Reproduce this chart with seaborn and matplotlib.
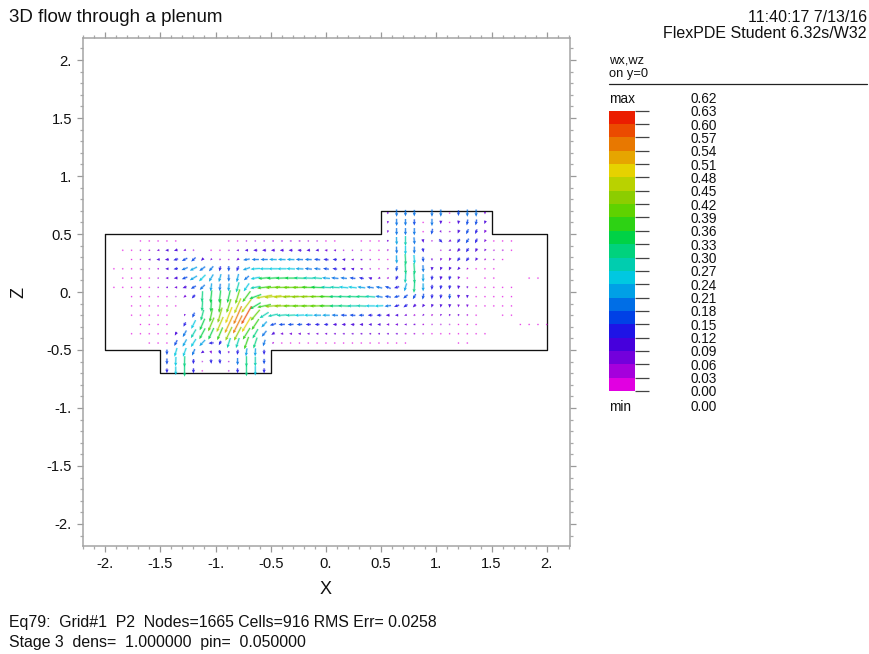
import numpy as np
import pandas as pd
import matplotlib
matplotlib.use("Agg")
import matplotlib.pyplot as plt
from matplotlib.colors import ListedColormap, BoundaryNorm
from matplotlib.ticker import MultipleLocator
import seaborn as sns

# ---- data: flow vectors (hundredths of wx / wz) ----
col_step = 0.08
col_origin = -1.92
row_z = [0.68, 0.60, 0.52, 0.44, 0.36, 0.28, 0.20, 0.12, 0.04, -0.04, -0.12, -0.20,
         -0.28, -0.36, -0.44, -0.52, -0.60, -0.68]
row_first_col = [31, 31, 31, 3, 1, 2, 0, 1, 0, 2, 2, 2, 3, 2, 4, 6, 6, 6]

wx_rows = [
    [0, 0, 0, 0, 0, 0, 0, 1, 0, 0, 0, 0],
    [-1, 0, 0, 0, 0, 0, 0, 0, -2, -3, -3, -3],
    [-1, 0, 0, 0, 0, -3, 3, -4, -4, -6, -5, -4],
    [-1, -1, -1, -2, -1, 0, 0, 0, 0, 0, -1, -2, -3, -3, -4, -5, -5, -5, -5, -4, -3, -2, -2, 0, 0, -2, -1, -1,
     0, 1, 0, 2, 2, 0, 9, -7, -7, -8, -6, -4, -2, -1, 1],
    [-1, -2, -3, -5, -7, -9, -10, -7, -3, 0, -1, -2, -4, -7, -9, -11, -11, -11, -11, -11, -11, -10, -9, -8, -7, -3, -3, -3,
     -2, -2, -1, 1, 0, 0, 2, 0, -3, -6, -7, -7, -5, -4, -4, -4, -1],
    [-2, -3, -7, -9, -11, -13, -15, -12, -7, -4, -3, 0, -7, -18, -20, -20, -21, -21, -21, -20, -19, -17, -14, -12, -9, -7, -6,
     -4, -2, -1, 1, 2, 2, 1, 1, -3, -4, -7, -8, -5, -4, -3, -1],
    [-1, -1, -1, -2, -3, -5, -9, -12, -17, -20, -16, -12, -3, 0, -5, -20, -26, -26, -26, -26, -24, -22, -20, -18, -16, -13,
     -11, -9, -7, -4, -2, -3, -3, 2, 2, 1, -1, -3, -4, -6, -4, -1, -1, 0, 0],
    [-1, -1, -1, -2, -4, -8, -11, -15, -20, -18, -12, -6, 0, -5, -14, -26, -33, -34, -34, -33, -31, -29, -27, -22, -20, -18,
     -16, -13, -10, -7, -5, -5, -2, 2, 0, -1, -2, -3, -3, 0, 0, -1, 0, 0, 0, 0, -1, -1],
    [-1, -1, -2, -2, -2, -4, -6, -8, -11, -14, -14, -3, -2, -2, -8, -15, -28, -38, -40, -41, -41, -40, -38, -35, -28, -27,
     -26, -24, -22, -20, -18, -16, -14, -6, -2, 0, -1, -2, -2, -2, -1, 0, -1, -1, -1, 0],
    [-1, -1, -1, -1, -2, -3, -7, -9, -2, -4, -4, -8, -12, -22, -33, -45, -47, -45, -44, -44, -42, -40, -38, -32, -32, -30,
     -30, -28, -20, -17, -15, -12, -8, -3, -1, -2, -1, -1, -1, 0, -1, 0, -1, 0],
    [-1, -1, -1, -1, -1, -2, 0, 0, -2, -2, -5, -12, -18, -28, -30, -38, -44, -42, -41, -40, -40, -40, -38, -30, -30, -28,
     -27, -26, -24, -18, -14, -11, -8, -5, -3, -2, -1, -1, -1, 0, -1, 0, 0, -1],
    [-1, -1, -1, -1, -1, 0, -2, -6, -8, -8, -12, -18, -22, -28, -25, -25, -28, -28, -27, -26, -24, -22, -21, -18, -17, -16,
     -15, -13, -13, -11, -9, -7, -5, -4, -3, -2, -1, -1, -1, 0, 0, 0, 0, 0],
    [-1, -1, -1, -1, 0, -6, -12, -14, -16, -18, -22, -25, -25, -20, -15, -17, -17, -16, -15, -14, -13, -12, -11, -11, -11, -10,
     -9, -9, -8, -8, -7, -6, -5, -3, -2, -1, -1, -1, 0, 0, 0, 0, 0, -1, -1, -1, -1],
    [-1, -1, -1, -1, -1, -5, -10, -14, -16, -15, -15, -18, -20, -20, -15, -13, -9, -8, -8, -8, -7, -7, -7, -6, -6, -6,
     -6, -6, -6, -6, -6, -5, -5, -3, -2, -1, -1, -1, -1, 0, -1],
    [-1, -1, -1, -8, -11, -14, -16, -14, -6, -9, -9, -12, -10, -6, -4, -1, -1, -1, -1, -1, -1, -1, -1, -1, -1, -1, -1, -1, -1,
     -1, 0, 0, 0, 0, 0, -1, -1],
    [0, -7, -9, -8, -8, 3, 4, 1, -2, -3, -1, 0],
    [0, -1, -1, -1, -1, 1, 1, 0, 0, 0, 0, 0],
    [0, 0, 0, 0, 0, 0, 0, 0, 0, 0, 0, 0],
]

wz_rows = [
    [-6, -20, -18, -18, 0, -20, -20, 1, -16, -20, -20, -7],
    [-7, -20, -19, -17, -2, -20, -10, -1, -10, -16, -16, -9],
    [-7, -20, -20, -20, -2, -16, -6, -2, -10, -14, -13, -8],
    [0, 0, 0, 0, 0, 0, 0, 0, 0, 0, 0, 0, 0, 0, 0, 0, 0, 0, 0, 0, 0, 0, 0, 0, 0, 0, 0, 0,
     -6, -22, -27, -20, -10, -4, -9, -4, -11, -13, -13, -7, 0, 0, 0],
    [0, -1, 0, 0, -1, 0, -3, -3, -3, 0, 0, 0, 0, 0, 0, 0, 0, 0, 0, 0, 1, -1, -1, 1, 1, 0, 0, -1,
     0, 0, -5, -20, -25, -20, -12, 0, 0, -3, -9, -11, -10, -6, -1, -2, -1],
    [0, 0, 1, -1, -1, -4, -8, -11, -7, -5, -4, -3, -5, -3, 0, 0, 1, 1, 1, 1, 1, 2, 2, 1, 1, 1, 1,
     1, 0, -2, -23, -30, -25, -15, -6, -7, -8, -10, -10, -8, -4, 0, 0],
    [0, 0, 0, 0, 1, 0, 0, -2, -7, -10, -12, -14, -14, -15, -14, -7, -2, 0, 0, 0, 1, 1, 2, 2, 2, 2,
     2, 2, 2, 1, -1, -3, -15, -30, -32, -20, -10, -9, -9, -7, -4, 0, 0, -1, 0],
    [0, 0, 0, 0, 0, 0, -1, -6, -12, -18, -20, -22, -20, -23, -12, -5, -3, -2, -1, 0, 1, 1, 2, 2, 2, 2,
     2, 3, 3, -2, -3, -12, -28, -30, -22, -13, -11, -12, -8, -2, 0, 0, 1, 0, 0, 0, 0, 0],
    [0, 0, 0, 0, 0, 0, 0, 0, -4, -8, -14, -22, -20, -22, -28, -22, -5, -5, -3, -1, -1, -1, 1, 2, 2, 2,
     3, 3, 3, 3, 4, 6, -4, -22, -30, -22, -14, -12, -12, -10, -6, -1, -1, -1, -1, -1],
    [0, 0, 0, 0, 0, -1, -5, -10, -30, -35, -35, -35, -40, -30, -12, -8, -5, -3, -2, -2, -1, 0, 1, 1, 1, 1,
     1, 2, 3, 3, -4, -10, -14, -16, -13, -12, -15, -10, -9, -2, -2, -2, -1, -1],
    [0, 0, 0, 0, 0, -1, 0, 0, -30, -33, -38, -38, -42, -38, -18, -8, -4, -2, -1, -1, -1, -1, 0, 0, 1, 0,
     1, 0, -1, -2, -5, -8, -8, -8, -9, -9, -10, -8, -8, -1, -1, -1, -1, -1],
    [0, 0, 0, 0, 0, 0, -6, -14, -30, -38, -42, -45, -50, -50, -30, -16, -6, -2, -1, -1, 0, 0, 0, 1, 1, 1,
     0, 0, 0, 0, 0, -2, -3, -5, -5, -6, -6, -6, -5, -1, 0, 0, -1, -1],
    [0, 0, 0, 0, 0, -12, -24, -32, -38, -42, -48, -50, -42, -30, -16, -5, -1, -1, -1, 0, 0, 0, 0, 0, 1, 0,
     0, 0, 0, 0, 0, -1, -1, -2, -3, -3, -2, -2, -1, 0, 0, 0, 0, 0, 0, 0, 0],
    [0, 0, 0, 0, 0, -10, -18, -24, -30, -32, -35, -38, -38, -32, -26, -16, -6, -1, 0, 0, 0, 0, 0, 0, 0, 0,
     0, 0, 0, 0, 0, 0, 0, 0, 0, 0, 0, 0, 0, -1, -1],
    [0, 0, 0, -16, -20, -22, -17, -1, -12, -28, -28, -34, -30, -18, -4, 0, 0, 0, 0, 0, 0, 0, 0, 0, 0, 0, 0, 0, 0,
     0, 0, 0, 0, 0, 0, 0, 0],
    [-15, -24, -24, -18, -5, -8, -12, -6, -14, -22, -22, -14],
    [-17, -26, -30, -14, -3, -12, -13, -3, -20, -30, -27, -15],
    [-13, -24, -32, -14, -1, 0, 0, -3, -14, -30, -26, -14],
]

outline_x = [-2.0, 0.5, 0.5, 1.5, 1.5, 2.0, 2.0, -0.5, -0.5, -1.5, -1.5, -2.0, -2.0]
outline_z = [0.5, 0.5, 0.7, 0.7, 0.5, 0.5, -0.5, -0.5, -0.7, -0.7, -0.5, -0.5, 0.5]

band_colors = ["#e100e1", "#a500dc", "#7300dc", "#4600dc", "#1e14e6", "#0041e6", "#006ee6",
               "#00a0e6", "#00c8e1", "#00cdaf", "#00d27d", "#00d246", "#2dd214", "#5fd200",
               "#8ccd00", "#b9d200", "#e6d200", "#e6a500", "#e87800", "#eb4b00", "#eb1e00"]
legend_values = ["0.00", "0.03", "0.06", "0.09", "0.12", "0.15", "0.18", "0.21", "0.24", "0.27", "0.30",
                 "0.33", "0.36", "0.39", "0.42", "0.45", "0.48", "0.51", "0.54", "0.57", "0.60", "0.63"]
axis_tick_labels = ["-2.", "-1.5", "-1.", "-0.5", "0.", "0.5", "1.", "1.5", "2."]
axis_tick_values = [-2.0, -1.5, -1.0, -0.5, 0.0, 0.5, 1.0, 1.5, 2.0]

# ---- build table ----
records = []
for z, first, us, vs in zip(row_z, row_first_col, wx_rows, wz_rows):
    assert len(us) == len(vs), (z, len(us), len(vs))
    for i, (u, v) in enumerate(zip(us, vs)):
        if u == 0 and v == 0:
            continue
        records.append((col_origin + col_step * (first + i), z, u / 100.0, v / 100.0))
flow = pd.DataFrame(records, columns=["x", "z", "wx", "wz"])
flow["speed"] = np.hypot(flow["wx"], flow["wz"])

sns.set_theme(style="white", context="notebook")
plt.rcParams["font.family"] = ["Liberation Sans", "DejaVu Sans"]
W, H = 870, 654
fig = plt.figure(figsize=(W / 100, H / 100), dpi=100, facecolor="white")


def box(l, t, r, b):
    return [l / W, 1 - b / H, (r - l) / W, (b - t) / H]


def put(x, y, s, size, ha="left", va="center", **kw):
    fig.text(x / W, 1 - y / H, s, fontsize=size, ha=ha, va=va, color="#111111", **kw)


edges = np.arange(0, 0.64, 0.03)
cmap = ListedColormap(band_colors)
norm = BoundaryNorm(edges, cmap.N, clip=True)

ax = fig.add_axes(box(83, 38, 570, 546))
ax.set_xlim(-2.2, 2.21)
ax.set_ylim(-2.19, 2.19)
sns.lineplot(x=outline_x, y=outline_z, sort=False, estimator=None, color="#111111",
             linewidth=0.95, ax=ax, zorder=2)
# soft halo, then the crisp arrow on top
ax.quiver(flow["x"], flow["z"], flow["wx"], flow["wz"], flow["speed"], cmap=cmap, norm=norm,
          angles="uv", scale_units="dots", scale=1 / 36, pivot="mid", units="dots", width=2.2,
          headwidth=1.6, headlength=1.8, headaxislength=1.6, minlength=1.0, zorder=3,
          clip_on=False, alpha=0.28)
ax.quiver(flow["x"], flow["z"], flow["wx"], flow["wz"], flow["speed"], cmap=cmap, norm=norm,
          angles="uv", scale_units="dots", scale=1 / 36, pivot="mid", units="dots", width=0.8,
          headwidth=3.8, headlength=4.4, headaxislength=4.0, minlength=1.4, zorder=4,
          clip_on=False, alpha=0.85)

for s in ax.spines.values():
    s.set_color("#a4a4a4")
    s.set_linewidth(1.1)
    s.set_visible(True)
ax.set_xticks(axis_tick_values, axis_tick_labels)
ax.set_yticks(axis_tick_values, axis_tick_labels)
ax.xaxis.set_minor_locator(MultipleLocator(0.1))
ax.yaxis.set_minor_locator(MultipleLocator(0.1))
ax.tick_params(axis="both", which="major", length=4.5, width=0.9, color="#999999", direction="out",
               top=True, right=True, bottom=True, left=True, labelsize=10.6, labelcolor="#111111", pad=3.5)
ax.tick_params(axis="both", which="minor", length=2.2, width=0.9, color="#a8a8a8", direction="out",
               top=True, right=True, bottom=True, left=True)
ax.grid(False)

# ---- colour legend ----
lax = fig.add_axes(box(609.3, 110.7, 635.3, 391))
levels = np.arange(len(band_colors))[::-1].reshape(-1, 1)
sns.heatmap(levels, cmap=cmap, cbar=False, ax=lax, xticklabels=False, linewidths=0)
lax.yaxis.tick_right()
lax.set_yticks(np.arange(len(legend_values)), legend_values[::-1], rotation=0)
lax.tick_params(axis="y", length=10, width=0.9, color="#444444", pad=30, labelsize=9.8,
                labelcolor="#111111", right=True, left=False)
lax.set_xticks([])

# ---- texts ----
put(9, 17, "3D flow through a plenum", 13.5)
put(867, 18, "11:40:17 7/13/16", 11.5, ha="right")
put(867, 33, "FlexPDE Student 6.32s/W32", 11.5, ha="right")
put(609, 60.5, "wx,wz", 9.3)
put(609, 73.5, "on y=0", 9.3)
fig.add_artist(plt.Line2D([609 / W, 867 / W], [1 - 84 / H, 1 - 84 / H], color="#222222", lw=0.9))
put(609, 99, "max", 9.8)
put(691, 99, "0.62", 9.8)
put(609, 407, "min", 9.8)
put(691, 407, "0.00", 9.8)
put(326, 590, "X", 13, ha="center")
put(19, 292, "Z", 13, ha="center", rotation=90)
put(9, 622, "Eq79:  Grid#1  P2  Nodes=1665 Cells=916 RMS Err= 0.0258", 11.45)
put(9, 642, "Stage 3  dens=  1.000000  pin=  0.050000", 11.45)

fig.savefig("out.png", dpi=100, facecolor="white")
